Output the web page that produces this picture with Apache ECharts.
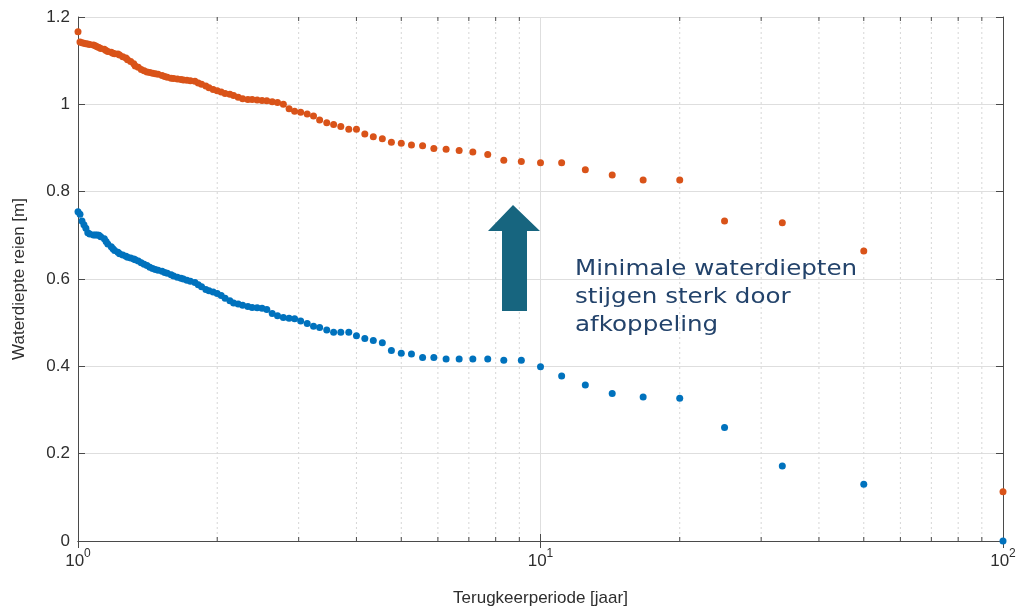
<!DOCTYPE html>
<html>
<head>
<meta charset="utf-8">
<script src="https://cdn.jsdelivr.net/npm/echarts@6/dist/echarts.min.js"></script>
<style>
html, body { margin: 0; padding: 0; background: #fff; }
#chart { width: 1021px; height: 609px; }
</style>
</head>
<body>
<div id="chart"></div>
<script>
// terugkeerperiode per rang (jaar)
var periods = [
  100, 50, 33.33, 25, 20, 16.67, 14.29, 12.5, 11.11, 10,
  9.09, 8.33, 7.69, 7.14, 6.67, 6.25, 5.88, 5.56, 5.26, 5,
  4.76, 4.55, 4.35, 4.17, 4, 3.85, 3.7, 3.57, 3.45, 3.33,
  3.23, 3.13, 3.03, 2.94, 2.86, 2.78, 2.7, 2.63, 2.56, 2.5,
  2.44, 2.38, 2.33, 2.27, 2.22, 2.17, 2.13, 2.08, 2.04, 2,
  1.96, 1.92, 1.89, 1.85, 1.82, 1.79, 1.75, 1.72, 1.69, 1.67,
  1.64, 1.61, 1.59, 1.56, 1.54, 1.52, 1.49, 1.47, 1.45, 1.43,
  1.41, 1.39, 1.37, 1.35, 1.33, 1.32, 1.3, 1.28, 1.27, 1.25,
  1.23, 1.22, 1.2, 1.19, 1.18, 1.16, 1.15, 1.14, 1.12, 1.11,
  1.1, 1.09, 1.08, 1.06, 1.05, 1.04, 1.03, 1.02, 1.01, 1
];
// met afkoppeling
var depthOrange = [
  0.113, 0.664, 0.729, 0.733, 0.827, 0.827, 0.838, 0.850, 0.866, 0.866,
  0.869, 0.872, 0.885, 0.891, 0.894, 0.897, 0.899, 0.905, 0.907, 0.911,
  0.913, 0.921, 0.926, 0.932, 0.943, 0.943, 0.949, 0.954, 0.958, 0.964,
  0.973, 0.978, 0.982, 0.984, 0.990, 1.000, 1.004, 1.006, 1.008, 1.009,
  1.010, 1.011, 1.011, 1.013, 1.016, 1.020, 1.023, 1.025, 1.028, 1.031,
  1.034, 1.038, 1.042, 1.046, 1.049, 1.053, 1.054, 1.055, 1.056, 1.057,
  1.058, 1.059, 1.060, 1.062, 1.064, 1.066, 1.069, 1.070, 1.071, 1.073,
  1.074, 1.077, 1.080, 1.085, 1.088, 1.093, 1.098, 1.102, 1.106, 1.109,
  1.113, 1.115, 1.116, 1.117, 1.119, 1.121, 1.123, 1.126, 1.128, 1.130,
  1.132, 1.134, 1.136, 1.137, 1.138, 1.139, 1.140, 1.141, 1.143, 1.166
];
// huidige situatie
var depthBlue = [
  0.000, 0.130, 0.172, 0.260, 0.327, 0.330, 0.338, 0.357, 0.378, 0.399,
  0.414, 0.414, 0.417, 0.417, 0.417, 0.417, 0.420, 0.420, 0.428, 0.430,
  0.436, 0.454, 0.459, 0.464, 0.470, 0.478, 0.478, 0.478, 0.483, 0.489,
  0.492, 0.498, 0.504, 0.509, 0.510, 0.512, 0.516, 0.521, 0.530, 0.533,
  0.534, 0.535, 0.537, 0.540, 0.543, 0.545, 0.550, 0.556, 0.562, 0.567,
  0.570, 0.573, 0.576, 0.582, 0.587, 0.592, 0.595, 0.597, 0.600, 0.602,
  0.604, 0.607, 0.610, 0.613, 0.615, 0.618, 0.620, 0.622, 0.624, 0.627,
  0.631, 0.634, 0.637, 0.641, 0.644, 0.646, 0.648, 0.650, 0.652, 0.655,
  0.658, 0.661, 0.665, 0.669, 0.674, 0.680, 0.686, 0.692, 0.697, 0.700,
  0.701, 0.701, 0.701, 0.703, 0.706, 0.716, 0.724, 0.733, 0.748, 0.754
];
var minorTicks = [2, 3, 4, 5, 6, 7, 8, 9, 20, 30, 40, 50, 60, 70, 80, 90];
var yTicks = [0, 0.2, 0.4, 0.6, 0.8, 1, 1.2];
var annotation = ['Minimale waterdiepten', 'stijgen sterk door', 'afkoppeling'];

function pairs(xs, ys) {
  var out = [];
  for (var i = 0; i < xs.length; i++) out.push([xs[i], ys[i]]);
  return out;
}

var chart = echarts.init(document.getElementById('chart'));
var axisColor = '#4a4a4a';
var labelFont = { color: '#2e2e2e', fontFamily: 'Liberation Sans', fontSize: 17 };

var option = {
  animation: false,
  backgroundColor: '#fff',
  grid: { left: 78, right: 18, top: 17, bottom: 68, outerBoundsMode: 'none' },
  xAxis: [{
    type: 'log',
    logBase: 10,
    min: 1,
    max: 100,
    name: 'Terugkeerperiode [jaar]',
    nameLocation: 'middle',
    nameGap: 49,
    nameTextStyle: labelFont,
    axisLine: { lineStyle: { color: axisColor } },
    axisTick: { inside: true, length: 7, lineStyle: { color: axisColor } },
    axisLabel: {
      margin: 7,
      formatter: function (v) {
        return '{b|10}{s|' + Math.round(Math.log10(v)) + '}';
      },
      rich: {
        b: { fontFamily: 'Liberation Sans', fontSize: 17, color: '#2e2e2e', lineHeight: 22, verticalAlign: 'bottom' },
        s: { fontFamily: 'Liberation Sans', fontSize: 12, color: '#2e2e2e', lineHeight: 22, verticalAlign: 'top' }
      }
    },
    splitLine: { show: true, lineStyle: { color: '#dedede' } }
  }, {
    type: 'log',
    logBase: 10,
    min: 1,
    max: 100,
    position: 'top',
    axisLine: { lineStyle: { color: axisColor } },
    axisTick: { inside: true, length: 7, lineStyle: { color: axisColor } },
    axisLabel: { show: false },
    splitLine: { show: false }
  }],
  yAxis: [{
    type: 'value',
    min: yTicks[0],
    max: yTicks[yTicks.length - 1],
    interval: 0.2,
    name: 'Waterdiepte reien [m]',
    nameLocation: 'middle',
    nameRotate: 90,
    nameGap: 50,
    nameTextStyle: labelFont,
    axisLine: { show: true, lineStyle: { color: axisColor } },
    axisTick: { show: true, inside: true, length: 7, lineStyle: { color: axisColor } },
    axisLabel: labelFont,
    splitLine: { show: true, lineStyle: { color: '#dedede' } }
  }, {
    type: 'value',
    min: yTicks[0],
    max: yTicks[yTicks.length - 1],
    interval: 0.2,
    position: 'right',
    axisLine: { show: true, lineStyle: { color: axisColor } },
    axisTick: { show: true, inside: true, length: 7, lineStyle: { color: axisColor } },
    axisLabel: { show: false },
    splitLine: { show: false }
  }],
  series: [
    {
      // kleine (gestippelde) rasterlijnen en ticks op 2..9, 20..90
      type: 'custom',
      silent: true,
      z: 1,
      data: minorTicks.map(function (t) { return [t, 0]; }),
      encode: { x: 0, y: 1 },
      renderItem: function (params, api) {
        var x = api.coord([api.value(0), 0])[0];
        var cs = params.coordSys;
        var top = cs.y, bottom = cs.y + cs.height;
        return {
          type: 'group',
          children: [
            { type: 'line', shape: { x1: x, y1: top, x2: x, y2: bottom },
              style: { stroke: '#d6d6d6', lineWidth: 1, lineDash: [2, 3] } },
            { type: 'line', shape: { x1: x, y1: bottom, x2: x, y2: bottom - 4 },
              style: { stroke: axisColor, lineWidth: 1 } },
            { type: 'line', shape: { x1: x, y1: top, x2: x, y2: top + 4 },
              style: { stroke: axisColor, lineWidth: 1 } }
          ]
        };
      }
    },
    {
      name: 'huidig',
      type: 'scatter',
      symbol: 'circle',
      symbolSize: 7,
      z: 3,
      itemStyle: { color: '#0072bd', opacity: 1 },
      data: pairs(periods, depthBlue)
    },
    {
      name: 'afkoppeling',
      type: 'scatter',
      symbol: 'circle',
      symbolSize: 7,
      z: 3,
      itemStyle: { color: '#d95319', opacity: 1 },
      data: pairs(periods, depthOrange)
    }
  ],
  graphic: [
    {
      type: 'polygon',
      z: 10,
      shape: { points: [[513, 205], [540, 231], [527, 231], [527, 311], [502, 311], [502, 231], [488, 231]] },
      style: { fill: '#17657f' }
    },
    {
      type: 'text',
      z: 10,
      x: 575,
      y: 256,
      scaleX: 1.17,
      style: {
        text: annotation.join('\n'),
        fontFamily: 'DejaVu Sans',
        fontSize: 21,
        lineHeight: 28,
        fill: '#23436b'
      }
    }
  ]
};
chart.setOption(option);
</script>
</body>
</html>
